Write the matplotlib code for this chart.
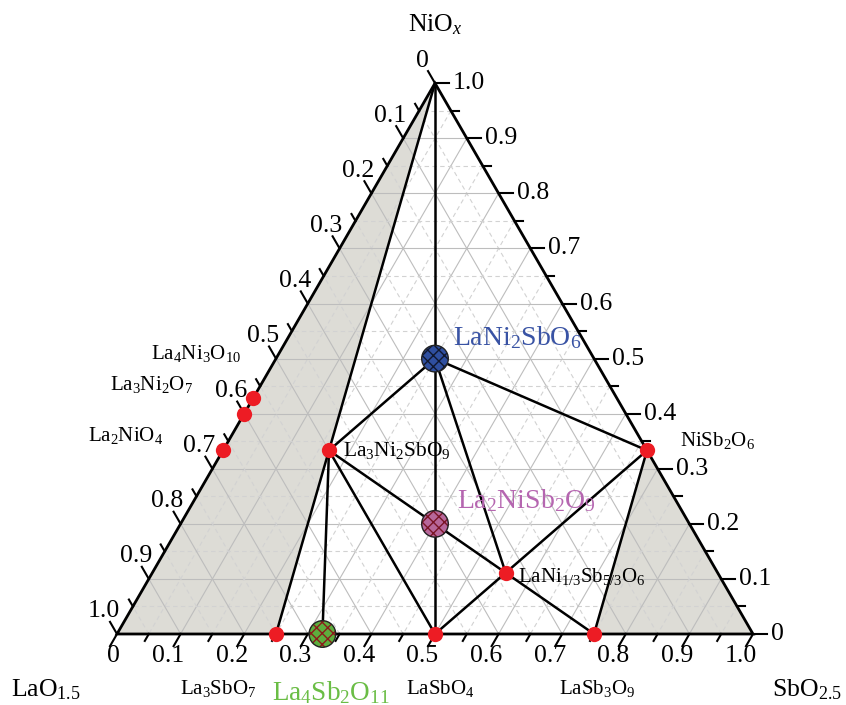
import numpy as np
import matplotlib.pyplot as plt
from matplotlib.patches import Circle, Polygon

plt.rcParams['font.family'] = ['Liberation Serif', 'DejaVu Serif']
plt.rcParams['mathtext.fontset'] = 'custom'
plt.rcParams['mathtext.rm'] = 'Liberation Serif'
plt.rcParams['mathtext.it'] = 'Liberation Serif:italic'
plt.rcParams['hatch.linewidth'] = 1.0

# corners of the diagram
corner_names = ["NiO$_x$", "LaO$_{1.5}$", "SbO$_{2.5}$"]

# phases on red dots: fractions (LaO1.5, NiOx, SbO2.5)
phase_names = ["La$_4$Ni$_3$O$_{10}$", "La$_3$Ni$_2$O$_7$", "La$_2$NiO$_4$",
               "La$_3$Ni$_2$SbO$_9$", "NiSb$_2$O$_6$", "LaNi$_{1/3}$Sb$_{5/3}$O$_6$",
               "La$_3$SbO$_7$", "LaSbO$_4$", "LaSb$_3$O$_9$"]
phase_la = [4/7, 0.6, 2/3, 0.5, 0.0, 1/3, 0.75, 0.5, 0.25]
phase_ni = [3/7, 0.4, 1/3, 1/3, 1/3, 1/9, 0.0, 0.0, 0.0]
phase_sb = [0.0, 0.0, 0.0, 1/6, 2/3, 5/9, 0.25, 0.5, 0.75]

# new phases (hatched markers)
new_names = ["LaNi$_2$SbO$_6$", "La$_2$NiSb$_2$O$_9$", "La$_4$Sb$_2$O$_{11}$"]
new_la = [0.25, 0.4, 0.677]
new_ni = [0.5, 0.2, 0.0]
new_sb = [0.25, 0.4, 0.323]

# tie lines between phases
tie_lines = [
    ("NiO$_x$", "La$_3$SbO$_7$"),
    ("NiO$_x$", "LaSbO$_4$"),
    ("La$_3$Ni$_2$SbO$_9$", "LaNi$_2$SbO$_6$"),
    ("LaNi$_2$SbO$_6$", "NiSb$_2$O$_6$"),
    ("LaNi$_2$SbO$_6$", "LaNi$_{1/3}$Sb$_{5/3}$O$_6$"),
    ("La$_3$Ni$_2$SbO$_9$", "LaNi$_{1/3}$Sb$_{5/3}$O$_6$"),
    ("La$_3$Ni$_2$SbO$_9$", "La$_4$Sb$_2$O$_{11}$"),
    ("La$_3$Ni$_2$SbO$_9$", "LaSbO$_4$"),
    ("LaNi$_{1/3}$Sb$_{5/3}$O$_6$", "LaSbO$_4$"),
    ("LaNi$_{1/3}$Sb$_{5/3}$O$_6$", "LaSb$_3$O$_9$"),
    ("LaNi$_{1/3}$Sb$_{5/3}$O$_6$", "NiSb$_2$O$_6$"),
    ("NiSb$_2$O$_6$", "LaSb$_3$O$_9$"),
]

# grey regions
shaded = [
    ("NiO$_x$", "LaO$_{1.5}$", "La$_3$SbO$_7$"),
    ("NiSb$_2$O$_6$", "LaSb$_3$O$_9$", "SbO$_{2.5}$"),
]

tick_values = np.round(np.arange(0, 1.0001, 0.05), 2)

H = np.sqrt(3) / 2
PX = 1 / 636.0  # one pixel in data units


def tern(la, ni, sb):
    return sb + ni / 2, ni * H


pts = {
    "NiO$_x$": tern(0, 1, 0),
    "LaO$_{1.5}$": tern(1, 0, 0),
    "SbO$_{2.5}$": tern(0, 0, 1),
}
for n, a, b, c in zip(phase_names, phase_la, phase_ni, phase_sb):
    pts[n] = tern(a, b, c)
for n, a, b, c in zip(new_names, new_la, new_ni, new_sb):
    pts[n] = tern(a, b, c)

fig = plt.figure(figsize=(8.46, 7.05), dpi=100)
ax = fig.add_axes([0, 0, 1, 1])
ax.set_xlim(-117 * PX, 729 * PX)
ax.set_ylim(-71 * PX, 634 * PX)
ax.set_aspect('equal')
ax.axis('off')

for tri in shaded:
    ax.add_patch(Polygon([pts[k] for k in tri], closed=True, fc='#dddcd6',
                         ec='none', zorder=0))

# grid
for v in tick_values[1:-1]:
    major = abs(v * 10 - round(v * 10)) < 1e-6
    kw = dict(color='#bdbdbd', lw=0.8, ls='-') if major else \
        dict(color='#d2d2d2', lw=0.8, ls=(0, (4, 3)))
    for p, q in [(tern(0, v, 1 - v), tern(1 - v, v, 0)),
                 (tern(0, 1 - v, v), tern(1 - v, 0, v)),
                 (tern(v, 0, 1 - v), tern(v, 1 - v, 0))]:
        ax.plot([p[0], q[0]], [p[1], q[1]], zorder=1, **kw)

# tie lines
for a, b in tie_lines:
    ax.plot([pts[a][0], pts[b][0]], [pts[a][1], pts[b][1]], color='black',
            lw=1.8, zorder=2, solid_capstyle='round')

# triangle frame
frame = [pts["LaO$_{1.5}$"], pts["SbO$_{2.5}$"], pts["NiO$_x$"]]
ax.add_patch(Polygon(frame, closed=True, fill=False, ec='black', lw=2.0,
                     zorder=3, joinstyle='miter'))

# ticks and tick labels
c60, s60 = 0.5, H
for v in tick_values:
    major = abs(v * 10 - round(v * 10)) < 1e-6
    L = (14 if major else 8) * PX
    txt = '0' if v == 0 else f'{v:.1f}'
    # left axis: LaO1.5, ticks up-left
    p = tern(v, 1 - v, 0)
    d = (-c60, s60)
    ax.plot([p[0], p[0] + d[0] * L], [p[1], p[1] + d[1] * L], color='black', lw=1.5, zorder=3)
    if major:
        ax.text(p[0] + d[0] * 26 * PX, p[1] + d[1] * 26 * PX, txt, ha='center',
                va='center', fontsize=18.5)
    # right axis: NiOx, ticks to the right
    p = tern(0, v, 1 - v)
    ax.plot([p[0], p[0] + L], [p[1], p[1]], color='black', lw=1.5, zorder=3)
    if major:
        ax.text(p[0] + 18 * PX, p[1], txt, ha='left', va='center', fontsize=18.5)
    # bottom axis: SbO2.5, ticks down-left
    p = tern(1 - v, 0, v)
    d = (-c60, -s60)
    ax.plot([p[0], p[0] + d[0] * L], [p[1], p[1] + d[1] * L], color='black', lw=1.5, zorder=3)
    if major:
        shift = 9 * PX if v == 0 else 0
        ax.text(p[0] + d[0] * 25 * PX + shift, p[1] + d[1] * 25 * PX, txt,
                ha='center', va='center', fontsize=18.5)

# red phases
xs = [pts[n][0] for n in phase_names]
ys = [pts[n][1] for n in phase_names]
ax.plot(xs, ys, 'o', ms=11, color='#ed1c24', mec='none', zorder=5)

# new phases: hatched circles
new_face = ['#2f4f9f', '#b7679a', '#5dae3d']
new_hatch = ['#101830', '#7a1526', '#8b1a1a']
R = 13.3 * PX
for n, fc, hc in zip(new_names, new_face, new_hatch):
    ax.add_patch(Circle(pts[n], R, fc=fc, ec=hc, lw=0, hatch='xxx', zorder=5))
    ax.add_patch(Circle(pts[n], R, fill=False, ec='#222222', lw=1.0, zorder=6))

# labels for phases (offsets in points)
label_off = {
    "La$_4$Ni$_3$O$_{10}$": (-9, 32, 'right', 15, 'black'),
    "La$_3$Ni$_2$O$_7$": (-37, 21, 'right', 15, 'black'),
    "La$_2$NiO$_4$": (-43, 11, 'right', 15, 'black'),
    "La$_3$Ni$_2$SbO$_9$": (10, 0, 'left', 15.5, 'black'),
    "NiSb$_2$O$_6$": (24, 7, 'left', 15, 'black'),
    "LaNi$_{1/3}$Sb$_{5/3}$O$_6$": (9, -3, 'left', 15, 'black'),
    "La$_3$SbO$_7$": (-42, -39, 'center', 15, 'black'),
    "LaSbO$_4$": (4, -39, 'center', 15, 'black'),
    "LaSb$_3$O$_9$": (2, -39, 'center', 15, 'black'),
    "LaNi$_2$SbO$_6$": (13, 15, 'left', 20, '#3953a4'),
    "La$_2$NiSb$_2$O$_9$": (16, 17, 'left', 20, '#b566b0'),
    "La$_4$Sb$_2$O$_{11}$": (6, -42, 'center', 19.5, '#6abd45'),
}
for n, (dx, dy, ha, fs, col) in label_off.items():
    ax.annotate(n, pts[n], xytext=(dx, dy), textcoords='offset points',
                ha=ha, va='center', fontsize=fs, color=col, zorder=7)

# corner labels
corner_off = [(0, 42, 'center'), (-76, -40, 'left'), (14, -40, 'left')]
for n, (dx, dy, ha) in zip(corner_names, corner_off):
    ax.annotate(n, pts[n], xytext=(dx, dy), textcoords='offset points',
                ha=ha, va='center', fontsize=18.5)

fig.savefig('out.png', dpi=100)
